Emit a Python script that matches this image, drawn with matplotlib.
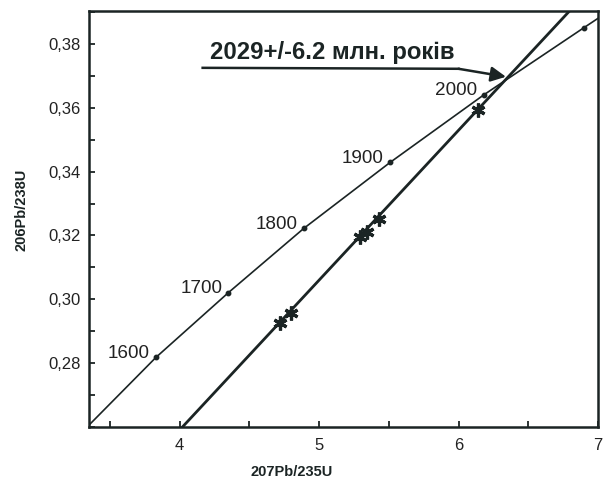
import matplotlib
matplotlib.use("Agg")
import matplotlib.pyplot as plt
from matplotlib.ticker import MultipleLocator, FixedLocator, FuncFormatter

plt.rcParams['font.family'] = ['Liberation Sans', 'DejaVu Sans']

# Concordia curve points (207Pb/235U, 206Pb/238U)
conc_x = [3.35, 3.83, 4.35, 4.89, 5.51, 6.18, 6.90, 7.00]
conc_y = [0.2606, 0.2818, 0.3021, 0.3222, 0.3429, 0.3640, 0.3851, 0.3880]
# age markers on the concordia
age_x = [3.83, 4.35, 4.89, 5.51, 6.18, 6.90]
age_y = [0.2818, 0.3021, 0.3222, 0.3429, 0.3640, 0.3851]
age_labels = ["1600", "1700", "1800", "1900", "2000", ""]

# Discordia line endpoints
disc_x = [4.02, 6.80]
disc_y = [0.2600, 0.3905]

# Analyses (asterisks)
data_x = [4.72, 4.80, 5.29, 5.34, 5.43, 6.14]
data_y = [0.2926, 0.2956, 0.3194, 0.3210, 0.3253, 0.3594]

# Intercept annotation
ann_text = "2029+/-6.2 млн. років"
ann_line_x = [4.165, 6.00]
ann_line_y = [0.3725, 0.3722]
intercept = (6.34, 0.3697)

y_ticks = [0.28, 0.30, 0.32, 0.34, 0.36, 0.38]

col = '#1b2424'

fig = plt.figure(figsize=(6.03, 4.84), dpi=100)
ax = fig.add_axes([89/603, 1-427/484, (598-89)/603, (427-11)/484])

ax.plot(conc_x, conc_y, color=col, lw=1.2, zorder=2)
ax.plot(age_x, age_y, 'o', color=col, ms=3.2, zorder=3)
for x, y, lab in zip(age_x, age_y, age_labels):
    if lab:
        ax.annotate(lab, (x, y), xytext=(-4.5, -0.3), textcoords='offset points',
                    ha='right', va='baseline', fontsize=13.6, color='#222222')

ax.plot(disc_x, disc_y, color=col, lw=2.0, zorder=2)
ax.plot(data_x, data_y, linestyle='none', marker=(6, 2, 0), ms=10, mew=2.3,
        color=col, zorder=4)

ax.plot(ann_line_x, ann_line_y, color=col, lw=1.8, zorder=3)
ax.annotate('', xy=intercept, xytext=(ann_line_x[-1], ann_line_y[-1]),
            arrowprops=dict(arrowstyle='-|>,head_length=0.9,head_width=0.45',
                            color=col, lw=1.8, shrinkA=0, shrinkB=0))
ax.text(4.22, 0.3737, ann_text, fontsize=17.2, fontweight='bold',
        color=col, ha='left', va='bottom')

ax.set_xlim(3.35, 7.0)
ax.set_ylim(0.26, 0.3903)
ax.xaxis.set_major_locator(MultipleLocator(1))
ax.xaxis.set_minor_locator(MultipleLocator(0.5))
ax.yaxis.set_major_locator(FixedLocator(y_ticks))
ax.yaxis.set_minor_locator(MultipleLocator(0.01))
ax.yaxis.set_major_formatter(FuncFormatter(lambda v, p: f"{v:.2f}".replace('.', ',')))
ax.xaxis.set_major_formatter(FuncFormatter(lambda v, p: f"{v:.0f}"))
ax.tick_params(which='both', direction='in', length=4, width=1.3, color=col,
               labelsize=12, labelcolor='#222222', top=False, right=False)
ax.tick_params(axis='x', pad=8)
ax.tick_params(axis='y', pad=6)
for s in ax.spines.values():
    s.set_linewidth(1.8)
    s.set_color(col)

fig.text(292/603, 1-472/484, "207Pb/235U", fontsize=10.5, fontweight='bold',
         ha='center', va='center', color=col)
fig.text(22/603, 1-210/484, "206Pb/238U", fontsize=10.5, fontweight='bold',
         ha='center', va='center', rotation=90, color=col)

fig.savefig("out.png", dpi=100)
